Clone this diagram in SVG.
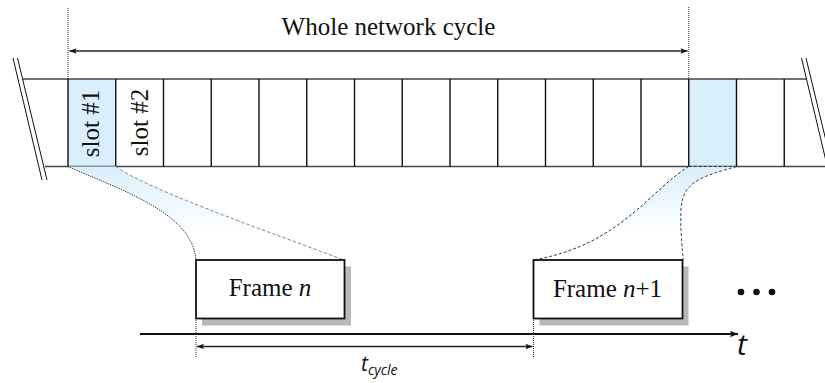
<svg xmlns="http://www.w3.org/2000/svg" width="825" height="383" viewBox="0 0 825 383">
  <style>
    .serif { font-family: "Liberation Serif", "Times New Roman", serif; fill: #111; }
    .sans { font-family: "Open Sans", "DejaVu Sans", sans-serif; font-style: italic; fill: #111; }
    .edge { stroke: #444; stroke-width: 1.4; fill: none; }
    .div { stroke: #111; stroke-width: 1.4; }
    .dot { stroke: #333; stroke-width: 1; stroke-dasharray: 1 1; fill: none; }
    .brk { stroke: #111; stroke-width: 1; }
    .frame { fill: #fff; stroke: #111; stroke-width: 1.8; }
    .shadow { fill: #b8b8b8; }
    .hl { fill: #d9effc; }
    .arrow { stroke: #222; stroke-width: 1.4; fill: none; }
  </style>
  <defs>
    <marker id="ah" viewBox="0 0 10 10" refX="10" refY="5" markerWidth="10" markerHeight="7" markerUnits="userSpaceOnUse" orient="auto-start-reverse">
      <path d="M0,1 L10,5 L0,9 L2,5 Z" fill="#111"/>
    </marker>
    <marker id="ahBig" viewBox="0 0 10 10" refX="10" refY="5" markerWidth="13" markerHeight="8" markerUnits="userSpaceOnUse" orient="auto">
      <path d="M0,1 L10,5 L0,9 L2,5 Z" fill="#111"/>
    </marker>
    <linearGradient id="fade" x1="0" y1="166" x2="0" y2="235" gradientUnits="userSpaceOnUse">
      <stop offset="0" stop-color="#d9effc"/>
      <stop offset="1" stop-color="#d9effc" stop-opacity="0"/>
    </linearGradient>
  </defs>

  <!-- slot strip -->
  <g id="strip">
    <rect class="hl" x="68" y="79" width="47.75" height="87.5"/>
    <rect class="hl" x="688.75" y="79" width="47.75" height="87.5"/>
    <line class="edge" x1="23" y1="79" x2="806" y2="79"/>
    <line class="edge" x1="45" y1="166.5" x2="825" y2="166.5"/>
    <g class="div">
      <line x1="68" y1="79" x2="68" y2="166.5"/>
      <line x1="115.75" y1="79" x2="115.75" y2="166.5"/>
      <line x1="163.5" y1="79" x2="163.5" y2="166.5"/>
      <line x1="211.25" y1="79" x2="211.25" y2="166.5"/>
      <line x1="259" y1="79" x2="259" y2="166.5"/>
      <line x1="306.75" y1="79" x2="306.75" y2="166.5"/>
      <line x1="354.5" y1="79" x2="354.5" y2="166.5"/>
      <line x1="402.25" y1="79" x2="402.25" y2="166.5"/>
      <line x1="450" y1="79" x2="450" y2="166.5"/>
      <line x1="497.75" y1="79" x2="497.75" y2="166.5"/>
      <line x1="545.5" y1="79" x2="545.5" y2="166.5"/>
      <line x1="593.25" y1="79" x2="593.25" y2="166.5"/>
      <line x1="641" y1="79" x2="641" y2="166.5"/>
      <line x1="688.75" y1="79" x2="688.75" y2="166.5"/>
      <line x1="736.5" y1="79" x2="736.5" y2="166.5"/>
      <line x1="784.25" y1="79" x2="784.25" y2="166.5"/>
    </g>
    <!-- break marks -->
    <g class="brk">
      <line x1="13" y1="58" x2="42" y2="180"/>
      <line x1="17.5" y1="58" x2="47" y2="180"/>
      <line x1="801.5" y1="58" x2="830" y2="178"/>
      <line x1="806" y1="58" x2="835" y2="178"/>
    </g>
  </g>

  <g id="slot1">
    <text class="serif" font-size="25" text-anchor="middle" transform="translate(98.5,123.5) rotate(-90)">slot #1</text>
  </g>
  <g id="slot2">
    <text class="serif" font-size="25" text-anchor="middle" transform="translate(147.5,122.5) rotate(-90)">slot #2</text>
  </g>

  <g id="cycle-label">
    <text class="serif" font-size="25" x="388.5" y="35" text-anchor="middle">Whole network cycle</text>
  </g>

  <!-- connectors -->
  <g id="connectors">
    <!-- funnels from slots to frames -->
    <path d="M68,166.5 C120,190 192,212 196,260 L344,260 C250,225 150,190 115.75,166.5 Z" fill="url(#fade)"/>
    <path d="M688.75,166.5 C650,190 620,245 533.5,260 L683,260 C683,250 680,235 681,210 C682,180 705,176 736.5,166.5 Z" fill="url(#fade)"/>
    <path d="M68,166.5 C120,190 192,212 196,260" fill="none" stroke="#222" stroke-width="1" stroke-dasharray="1.2 1.2"/>
    <path d="M115.75,166.5 C150,190 250,225 344,260" fill="none" stroke="#888" stroke-width="1" stroke-dasharray="3.5 2"/>
    <path d="M688.75,166.5 C650,190 620,245 533.5,260" fill="none" stroke="#333" stroke-width="1" stroke-dasharray="3 2"/>
    <path d="M736.5,166.5 C705,176 682,180 681,210 C680,235 683,250 683,260" fill="none" stroke="#444" stroke-width="1" stroke-dasharray="3 2"/>
    <line x1="688.75" y1="166.5" x2="736.5" y2="166.5" stroke="#333" stroke-width="1.2" stroke-dasharray="3 2"/>

    <!-- cycle boundaries -->
    <line class="dot" x1="68" y1="8" x2="68" y2="79"/>
    <line class="dot" x1="688.75" y1="7" x2="688.75" y2="79"/>
    <line class="arrow" x1="69.5" y1="51" x2="687.5" y2="51" marker-start="url(#ah)" marker-end="url(#ah)"/>

    <!-- time axis -->
    <line x1="140" y1="334" x2="738" y2="334" stroke="#111" stroke-width="1.8" marker-end="url(#ahBig)"/>
    <line class="dot" x1="196" y1="318" x2="196" y2="357"/>
    <line class="dot" x1="533.5" y1="318" x2="533.5" y2="357"/>
    <line class="arrow" x1="197" y1="346.5" x2="532.5" y2="346.5" marker-start="url(#ah)" marker-end="url(#ah)"/>
  </g>

  <g id="frame-n">
    <rect class="shadow" x="202" y="266.5" width="149" height="59"/>
    <rect class="frame" x="196" y="260" width="148.5" height="58.5"/>
    <text class="serif" font-size="25" x="270" y="295.5" text-anchor="middle">Frame <tspan font-style="italic">n</tspan></text>
  </g>

  <g id="frame-n1">
    <rect class="shadow" x="539.5" y="266.5" width="149" height="59"/>
    <rect class="frame" x="533.5" y="260" width="149" height="58.5"/>
    <text class="serif" font-size="25" x="607.5" y="297" text-anchor="middle">Frame <tspan font-style="italic">n</tspan>+1</text>
  </g>

  <g id="more" fill="#111">
    <circle cx="741" cy="292" r="3.3"/>
    <circle cx="756.5" cy="292" r="3.3"/>
    <circle cx="772" cy="292" r="3.3"/>
  </g>

  <g id="axis-label">
    <text class="sans" font-size="30" x="737" y="355">t</text>
  </g>

  <g id="tcycle-label">
    <text class="sans" font-size="21" x="361" y="371">t<tspan font-size="14" dy="4">cycle</tspan></text>
  </g>
</svg>
